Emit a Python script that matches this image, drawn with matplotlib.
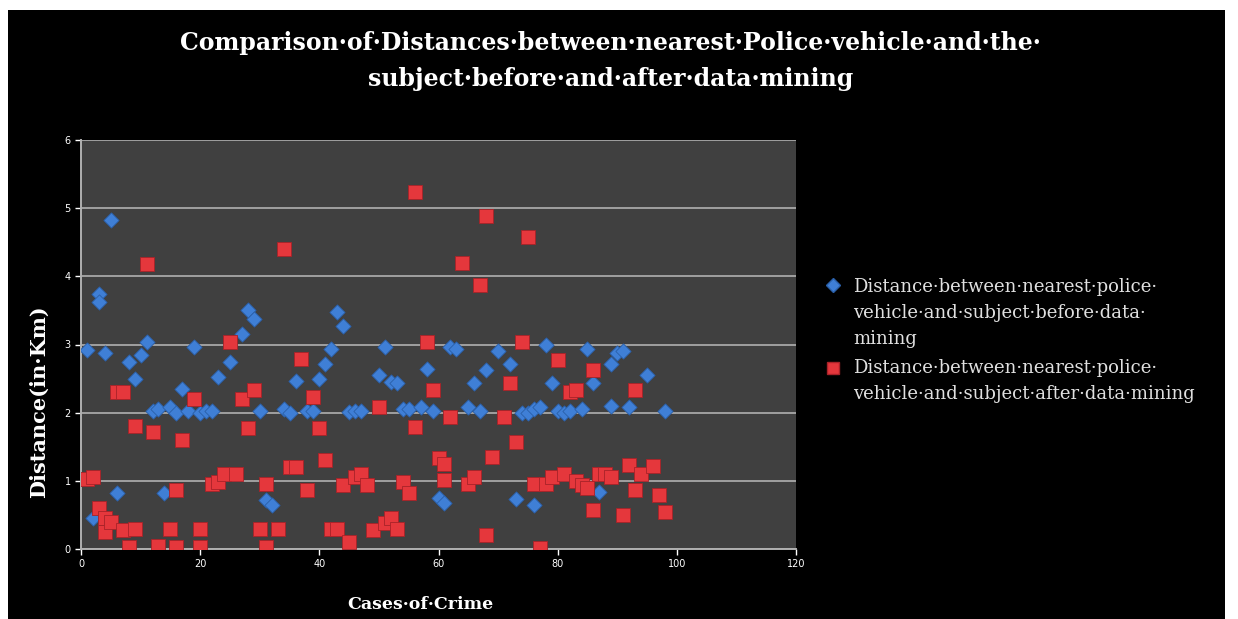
import matplotlib.pyplot as plt
from matplotlib.patches import Rectangle
from matplotlib.lines import Line2D

# case numbers and distances (km)
before_x = [1, 2, 3, 3, 4, 5, 6, 8, 9, 10, 11, 12, 13, 14, 15, 16, 17, 18, 19, 20,
            21, 22, 23, 25, 27, 28, 29, 30, 31, 32, 34, 35, 36, 38, 39, 40, 41, 42, 43, 44,
            45, 46, 47, 50, 51, 52, 53, 54, 55, 57, 58, 59, 60, 61, 62, 63, 65, 66, 67, 68,
            70, 72, 73, 74, 75, 76, 76, 77, 78, 79, 80, 81, 82, 84, 85, 86, 87, 89, 89, 90,
            91, 92, 95, 98]
before_y = [2.92, 0.45, 3.74, 3.62, 2.87, 4.83, 0.82, 2.75, 2.5, 2.85, 3.03, 2.03, 2.05, 0.82, 2.08, 2.0, 2.35, 2.03, 2.96, 2.0,
            2.03, 2.02, 2.52, 2.74, 3.16, 3.5, 3.37, 2.03, 0.72, 0.64, 2.05, 1.99, 2.47, 2.03, 2.03, 2.5, 2.72, 2.94, 3.47, 3.27,
            2.01, 2.02, 2.03, 2.55, 2.96, 2.45, 2.43, 2.06, 2.06, 2.08, 2.64, 2.03, 0.75, 0.68, 2.97, 2.93, 2.08, 2.43, 2.03, 2.62,
            2.91, 2.72, 0.74, 2.0, 2.0, 2.05, 0.64, 2.08, 2.99, 2.43, 2.03, 2.0, 2.03, 2.05, 2.94, 2.43, 0.84, 2.72, 2.1, 2.88,
            2.91, 2.08, 2.55, 2.03]

after_x = [1, 2, 3, 4, 4, 5, 6, 7, 7, 8, 9, 9, 11, 12, 13, 15, 16, 16, 17, 19,
           20, 20, 22, 23, 24, 25, 26, 27, 28, 29, 30, 31, 31, 33, 34, 35, 36, 37, 38, 39,
           40, 41, 42, 43, 44, 45, 46, 47, 48, 49, 50, 51, 52, 53, 54, 55, 56, 56, 58, 59,
           60, 61, 61, 62, 64, 65, 66, 67, 68, 68, 69, 71, 72, 73, 74, 75, 76, 77, 78, 79,
           80, 81, 82, 83, 83, 84, 85, 86, 86, 87, 88, 89, 91, 92, 93, 93, 94, 96, 97, 98]
after_y = [1.02, 1.05, 0.6, 0.45, 0.25, 0.4, 2.3, 2.3, 0.28, 0.03, 1.8, 0.3, 4.18, 1.72, 0.05, 0.3, 0.87, 0.03, 1.6, 2.2,
           0.3, 0.03, 0.96, 0.98, 1.1, 3.04, 1.1, 2.2, 1.77, 2.33, 0.3, 0.96, 0.03, 0.3, 4.4, 1.2, 1.2, 2.79, 0.87, 2.23,
           1.77, 1.3, 0.3, 0.3, 0.94, 0.11, 1.06, 1.1, 0.94, 0.28, 2.08, 0.38, 0.45, 0.3, 0.99, 0.82, 5.23, 1.79, 3.04, 2.33,
           1.33, 1.25, 1.01, 1.94, 4.2, 0.96, 1.06, 3.87, 4.89, 0.2, 1.35, 1.94, 2.43, 1.57, 3.04, 4.57, 0.96, 0.01, 0.96, 1.05,
           2.77, 1.1, 2.3, 2.33, 1.0, 0.94, 0.9, 2.62, 0.57, 1.1, 1.1, 1.06, 0.5, 1.23, 2.33, 0.86, 1.1, 1.22, 0.79, 0.55]

x_ticks = [0, 20, 40, 60, 80, 100, 120]
y_ticks = [0, 1, 2, 3, 4, 5, 6]

title = ("Comparison\u00b7of\u00b7Distances\u00b7between\u00b7nearest\u00b7Police\u00b7vehicle\u00b7and\u00b7the\u00b7\n"
         "subject\u00b7before\u00b7and\u00b7after\u00b7data\u00b7mining")
label_before = ("Distance\u00b7between\u00b7nearest\u00b7police\u00b7\n"
                "vehicle\u00b7and\u00b7subject\u00b7before\u00b7data\u00b7\nmining")
label_after = ("Distance\u00b7between\u00b7nearest\u00b7police\u00b7\n"
               "vehicle\u00b7and\u00b7subject\u00b7after\u00b7data\u00b7mining")

serif = ['DejaVu Serif']
W, H = 1238, 619

fig = plt.figure(figsize=(12.38, 6.19), dpi=100, facecolor='white')
# black chart area, white margin on top and right
bg = Rectangle((8 / W, 0), 1217 / W, 609 / H, transform=fig.transFigure,
               facecolor='black', edgecolor='none', zorder=-10)
fig.add_artist(bg)

ax = fig.add_axes([81 / W, 1 - 549 / H, 715 / W, 409 / H])
ax.set_zorder(2)
ax.set_facecolor('#404040')
ax.set_xlim(0, 120)
ax.set_ylim(0, 6)
ax.set_xticks(x_ticks)
ax.set_yticks(y_ticks)
ax.grid(axis='y', color='#a0a0a0', linewidth=1.4)
ax.set_axisbelow(True)
for s in ['top', 'right']:
    ax.spines[s].set_visible(False)
for s in ['left', 'bottom']:
    ax.spines[s].set_color('#b0b0b0')
    ax.spines[s].set_linewidth(1.4)
ax.tick_params(colors='white', labelsize=7, length=4, width=1, direction='out')

blue, blue_edge = '#3f7fd6', '#2a5fa8'
red, red_edge = '#e5373c', '#a82228'
ax.scatter(before_x, before_y, marker='D', s=60, color=blue,
           edgecolor=blue_edge, linewidth=0.6, zorder=3)
ax.scatter(after_x, after_y, marker='s', s=110, color=red,
           edgecolor=red_edge, linewidth=0.6, zorder=4)

ax.set_xlabel('Cases\u00b7of\u00b7Crime', color='white', fontsize=12.5,
              fontweight='bold', family=serif)
ax.xaxis.set_label_coords(0.474, -0.115)
ax.set_ylabel('Distance(in\u00b7Km)', color='white', fontsize=15,
              fontweight='bold', family=serif)
ax.yaxis.set_label_coords(-0.045, 0.36)

fig.text(0.493, 1 - 31 / H, title, ha='center', va='top', color='white',
         fontsize=17, fontweight='bold', family=serif, linespacing=1.62, zorder=3)

# legend drawn by hand so the line spacing matches
fig.add_artist(Line2D([833 / W], [1 - 285 / H], marker='D', markersize=7,
                      color=blue, markeredgecolor=blue_edge, transform=fig.transFigure))
fig.add_artist(Line2D([833 / W], [1 - 368 / H], marker='s', markersize=9,
                      color=red, markeredgecolor=red_edge, transform=fig.transFigure))
fig.text(853 / W, 1 - 278 / H, label_before, ha='left', va='top', color='#e0e0e0',
         fontsize=13, family=serif, linespacing=1.58)
fig.text(853 / W, 1 - 359 / H, label_after, ha='left', va='top', color='#e0e0e0',
         fontsize=13, family=serif, linespacing=1.58)

fig.savefig('out.png', dpi=100, facecolor=fig.get_facecolor())
